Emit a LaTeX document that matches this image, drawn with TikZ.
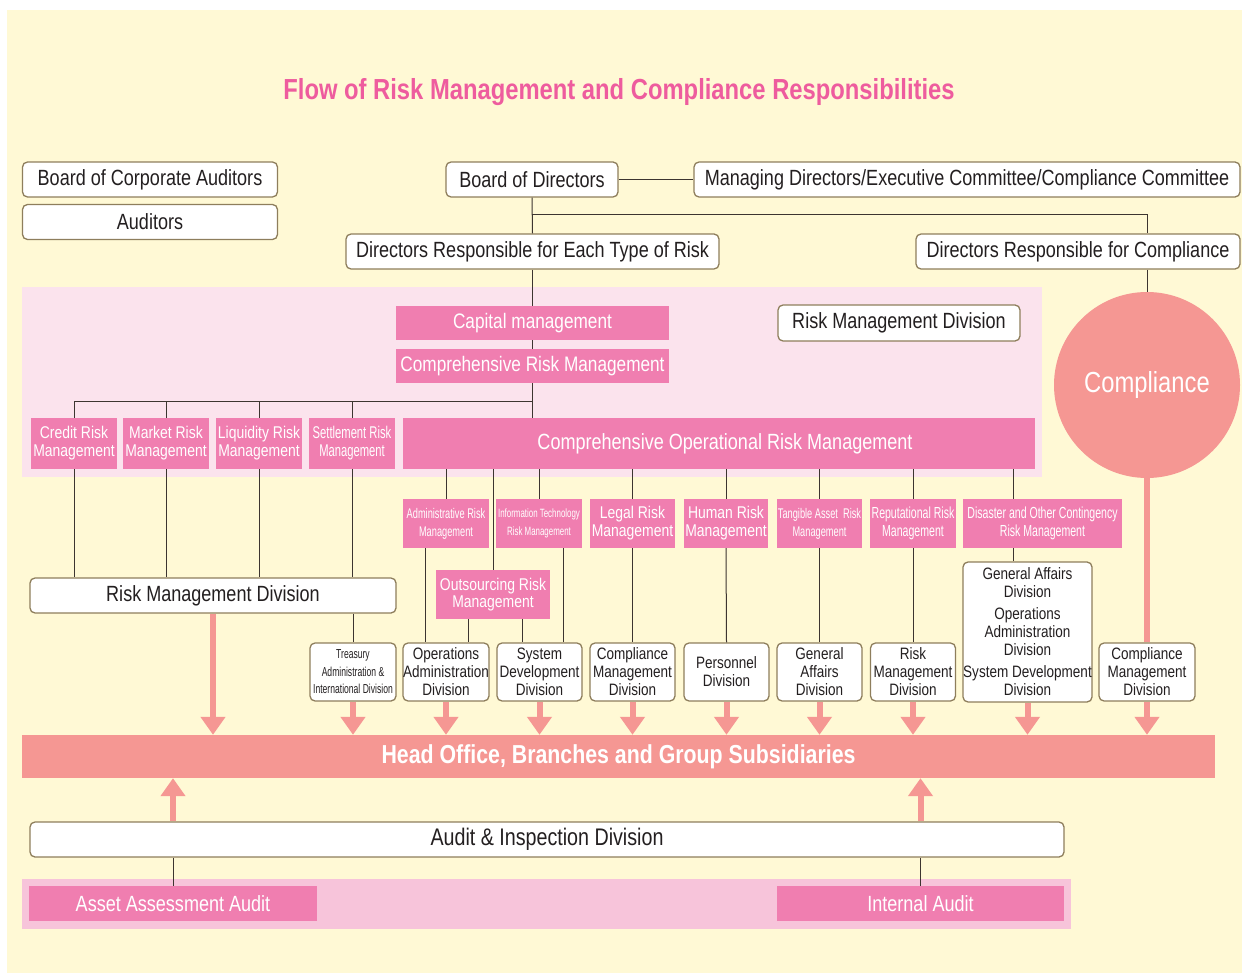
\documentclass[tikz,border=0pt]{standalone}
\usepackage{fontspec}
\setmainfont{Liberation Sans}[FakeStretch=0.82]
\newfontfamily\condfont{Liberation Sans}[FakeStretch=0.66]
\usetikzlibrary{arrows.meta}

\definecolor{paper}{HTML}{FFF9D5}
\definecolor{blush}{HTML}{FBE3ED}
\definecolor{candy}{HTML}{F7C4DA}
\definecolor{rose}{HTML}{F07EB0}
\definecolor{salmon}{HTML}{F59793}
\definecolor{headpink}{HTML}{EE5C9E}
\definecolor{edge}{HTML}{8E7E5C}
\definecolor{wire}{HTML}{3D3530}
\definecolor{ink}{HTML}{231F20}

\newcommand\fsz[2]{\fontsize{#1}{#2}\selectfont}

\begin{document}
\begin{tikzpicture}[x=1pt, y=-1pt,
    whitebox/.style={draw=edge, line width=1.3pt, fill=white, rounded corners=5pt,
      inner sep=0pt, text=ink, align=center},
    pinkbox/.style={fill=rose, inner sep=0pt, text=white, align=center},
    link/.style={draw=wire, line width=1pt},
    feed/.style={draw=salmon, line width=6pt, -{Triangle[width=24pt,length=18pt]}},
    feedline/.style={draw=salmon, line width=6pt}]
  \useasboundingbox (0,0) rectangle (1242,973);
  \fill[paper] (7,10) rectangle (1242,973);
  \fill[blush] (22,287) rectangle (1042,477);
  \fill[candy] (22,879) rectangle (1071,929);

  \node[text=headpink, font=\bfseries\fsz{29}{30}] (title) at (619,92)
    {Flow of Risk Management and Compliance Responsibilities};

  % boards and directors
  \node[whitebox, minimum width=255pt, minimum height=35pt, font=\fsz{22}{24}] (bca) at (150,179.5) {Board of Corporate Auditors};
  \node[whitebox, minimum width=255pt, minimum height=35pt, font=\fsz{22}{24}] (aud) at (150,222) {Auditors};
  \node[whitebox, minimum width=172pt, minimum height=35pt, font=\fsz{22}{24}] (bod) at (532,179.5) {Board of Directors};
  \node[whitebox, minimum width=546pt, minimum height=35pt, font=\fsz{22}{24}] (mdc) at (967,179.5) {Managing Directors/Executive Committee/Compliance Committee};
  \node[whitebox, minimum width=373pt, minimum height=35pt, font=\fsz{22}{24}] (drr) at (532.5,251.5) {Directors Responsible for Each Type of Risk};
  \node[whitebox, minimum width=324pt, minimum height=35pt, font=\fsz{22}{24}] (drc) at (1078,251.5) {Directors Responsible for Compliance};
  \node[circle, fill=salmon, minimum size=186pt, inner sep=0pt, text=white, font=\fsz{29}{30}] (comp) at (1147,385) {Compliance};

  % risk management block
  \node[pinkbox, minimum width=273pt, minimum height=34pt, font=\fsz{21}{23}] (cap) at (532.5,323) {Capital management};
  \node[pinkbox, minimum width=273pt, minimum height=34pt, font=\fsz{21}{23}] (crm) at (532.5,366) {Comprehensive Risk Management};
  \node[whitebox, minimum width=242pt, minimum height=36pt, font=\fsz{22}{24}] (rmdtop) at (899,323) {Risk Management Division};

  \node[pinkbox, minimum width=86pt, minimum height=51pt, font=\fsz{17}{18}] (credit) at (74,443.5) {Credit Risk\\Management};
  \node[pinkbox, minimum width=86pt, minimum height=51pt, font=\fsz{17}{18}] (market) at (166,443.5) {Market Risk\\Management};
  \node[pinkbox, minimum width=86pt, minimum height=51pt, font=\fsz{17}{18}] (liquid) at (259,443.5) {Liquidity Risk\\Management};
  \node[pinkbox, minimum width=86pt, minimum height=51pt, font=\condfont\fsz{17}{18}] (settle) at (352,443.5) {Settlement Risk\\Management};
  \node[pinkbox, minimum width=632pt, minimum height=51pt, font=\fsz{22}{24}] (corm) at (719,443.5) {\hspace*{12pt}Comprehensive Operational Risk Management};

  % operational risk categories
  \node[pinkbox, minimum width=86pt, minimum height=49pt, font=\condfont\fsz{14}{18}] (adm) at (446,523.5) {Administrative Risk\\Management};
  \node[pinkbox, minimum width=86pt, minimum height=49pt, font=\condfont\fsz{12}{18}] (itr) at (539,523.5) {Information Technology\\Risk Management};
  \node[pinkbox, minimum width=85pt, minimum height=49pt, font=\fsz{17}{18}] (legal) at (632.5,523.5) {Legal Risk\\Management};
  \node[pinkbox, minimum width=84pt, minimum height=49pt, font=\fsz{17}{18}] (human) at (726,523.5) {Human Risk\\Management};
  \node[pinkbox, minimum width=85pt, minimum height=49pt, font=\condfont\fsz{14}{18}] (tang) at (819.5,523.5) {Tangible Asset\ \ Risk\\Management};
  \node[pinkbox, minimum width=86pt, minimum height=49pt, font=\condfont\fsz{16}{18}] (repu) at (913,523.5) {Reputational Risk\\Management};
  \node[pinkbox, minimum width=159pt, minimum height=49pt, font=\condfont\fsz{16}{18}] (disas) at (1042.5,523.5) {Disaster and Other Contingency\\Risk Management};
  \node[pinkbox, minimum width=114pt, minimum height=49pt, font=\fsz{17}{17}] (outs) at (493,594.5) {Outsourcing Risk\\Management};

  % divisions
  \node[whitebox, minimum width=366pt, minimum height=35pt, font=\fsz{22}{24}] (rmd) at (213,595.5) {Risk Management Division};
  \node[whitebox, minimum width=86pt, minimum height=58pt, font=\condfont\fsz{13}{17.5}] (treas) at (353,672) {Treasury\\Administration \&\\International Division};
  \node[whitebox, minimum width=86pt, minimum height=58pt, font=\fsz{16.5}{18}] (ops) at (446,672) {Operations\\Administration\\Division};
  \node[whitebox, minimum width=85pt, minimum height=58pt, font=\fsz{16.5}{18}] (sysd) at (539.5,672) {System\\Development\\Division};
  \node[whitebox, minimum width=85pt, minimum height=58pt, font=\fsz{16.5}{18}] (cmd) at (632.5,672) {Compliance\\Management\\Division};
  \node[whitebox, minimum width=85pt, minimum height=58pt, font=\fsz{16.5}{18}] (pers) at (726.5,672) {Personnel\\Division};
  \node[whitebox, minimum width=85pt, minimum height=58pt, font=\fsz{16.5}{18}] (gad) at (819.5,672) {General\\Affairs\\Division};
  \node[whitebox, minimum width=85pt, minimum height=58pt, font=\fsz{16.5}{18}] (rmd2) at (913,672) {Risk\\Management\\Division};
  \node[whitebox, minimum width=129pt, minimum height=140pt, font=\fsz{16.5}{18}] (multi) at (1027.5,632) {General Affairs\\Division\\[4pt]Operations\\Administration\\Division\\[4pt]System Development\\Division};
  \node[whitebox, minimum width=96pt, minimum height=58pt, font=\fsz{16.5}{18}] (cmd2) at (1147,672) {Compliance\\Management\\Division};

  \node[fill=salmon, minimum width=1193pt, minimum height=43pt, inner sep=0pt, text=white, font=\bfseries\fsz{26}{28}] (band) at (618.5,756.5) {Head Office, Branches and Group Subsidiaries};

  % audit
  \node[whitebox, minimum width=1034pt, minimum height=35pt, font=\fsz{24}{26}] (aid) at (547,839.5) {Audit \& Inspection Division};
  \node[pinkbox, minimum width=288pt, minimum height=35pt, font=\fsz{22}{24}] (asset) at (173,903.5) {Asset Assessment Audit};
  \node[pinkbox, minimum width=287pt, minimum height=35pt, font=\fsz{22}{24}] (inaud) at (920.5,903.5) {Internal Audit};

  % reporting lines
  \coordinate (cbus) at (532,215);
  \coordinate (rbus) at (532.5,401);
  \draw[link] (bod.east) -- (mdc.west);
  \draw[link] (bod.south) -- (drr.north);
  \draw[link] (cbus) -| (comp.north |- drc.north);
  \draw[link] (comp.north |- drc.south) -- (comp.north);
  \draw[link] (drr.south) -- (cap.north);
  \draw[link] (cap.south) -- (crm.north);
  \draw[link] (crm.south) -- (crm.south |- corm.north);
  \foreach \n in {credit,market,liquid,settle}{
    \draw[link] (\n.north) |- (rbus);
    \draw[link] (\n.south) -- (\n.south |- rmd.north);
  }
  \draw[link] (treas.north |- rmd.south) -- (treas.north);
  \foreach \n in {adm,outs,itr,legal,human,tang,repu}
    \draw[link] (\n.north |- corm.south) -- (\n.north);
  \draw[link] ([xshift=-29pt]disas.north |- corm.south) -- ([xshift=-29pt]disas.north);
  \draw[link] ([xshift=-29pt]disas.south) -- ([xshift=-29pt]disas.south |- multi.north);
  \draw[link] ([xshift=-21pt]adm.south) -- ([xshift=-21pt]adm.south |- ops.north);
  \draw[link] ([xshift=-25pt]outs.south) -- ([xshift=-25pt]outs.south |- ops.north);
  \draw[link] ([xshift=29pt]outs.south) -- ([xshift=29pt]outs.south |- sysd.north);
  \draw[link] ([xshift=24pt]itr.south) -- ([xshift=24pt]itr.south |- sysd.north);
  \draw[link] (legal.south) -- (cmd.north);
  \draw[link] (human.south) -- (pers.north);
  \draw[link] (tang.south) -- (gad.north);
  \draw[link] (repu.south) -- (rmd2.north);
  \draw[link] (aid.south -| asset.north) -- (asset.north);
  \draw[link] (aid.south -| inaud.north) -- (inaud.north);

  % flows into the head office
  \draw[feedline] (comp.south) -- (cmd2.north);
  \foreach \n in {rmd,treas,ops,sysd,cmd,pers,gad,rmd2,multi,cmd2}
    \draw[feed] (\n.south) -- (\n.south |- band.north);
  \foreach \n in {asset,inaud}
    \draw[feed] (\n.north |- aid.north) -- (\n.north |- band.south);
\end{tikzpicture}
\end{document}
